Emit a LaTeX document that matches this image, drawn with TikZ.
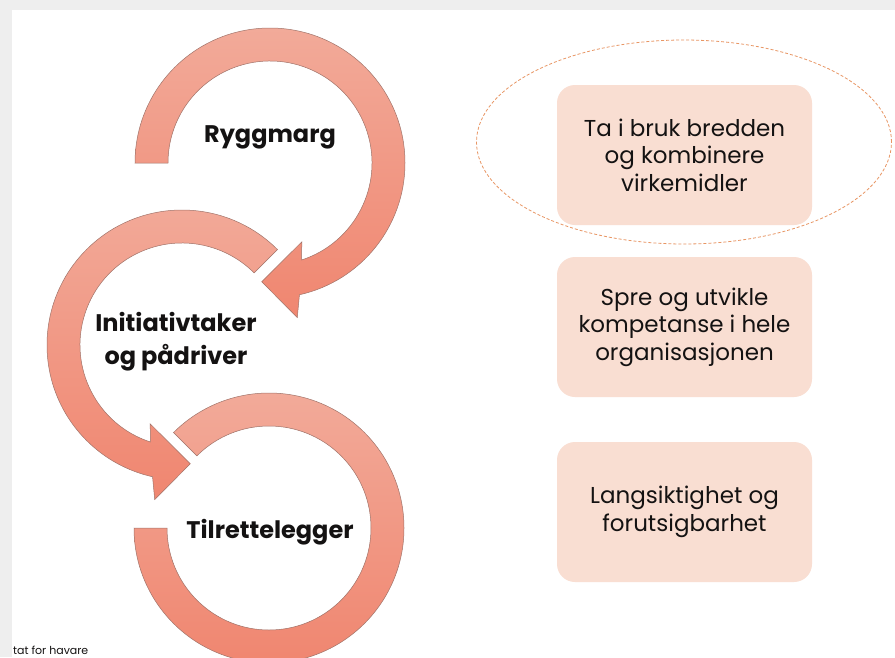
\documentclass[tikz,border=0pt]{standalone}
\usepackage{fontspec}
\setmainfont{Poppins}
\usetikzlibrary{calc,shapes.geometric}
\definecolor{arctop}{RGB}{242,170,153}
\definecolor{arcbot}{RGB}{240,134,112}
\definecolor{arcline}{RGB}{160,115,105}
\definecolor{boxfill}{RGB}{249,222,210}
\definecolor{ellcol}{RGB}{232,150,100}
\definecolor{txt}{RGB}{20,18,18}
\definecolor{framegray}{RGB}{238,238,238}
\tikzset{
  ringarrow/.style={draw=arcline, line width=0.5pt, top color=arctop, bottom color=arcbot},
  cyclelabel/.style={font=\fontsize{24}{33}\selectfont\bfseries, text=txt, align=center, inner sep=0pt},
  infobox/.style={fill=boxfill, rounded corners=18pt, minimum width=255pt, minimum height=140pt,
    inner sep=0pt, align=center, font=\fontsize{23}{27.5}\selectfont, text=txt},
  focusring/.style={draw=ellcol, dash pattern=on 3pt off 2pt, line width=0.8pt, ellipse,
    minimum width=415pt, minimum height=204pt, inner sep=0pt},
}
\begin{document}
\begin{tikzpicture}[x=1pt,y=1pt]
\useasboundingbox (0,0) rectangle (895,-657);
\clip (0,0) rectangle (895,-657);
\fill[framegray] (0,0) rectangle (895,-657);
\fill[white] (12,-10) rectangle (895,-657);

\coordinate (c1) at (270,-163);
\coordinate (c2) at (182,-345);
\coordinate (c3) at (269,-528);

% ring 1: Ryggmarg (clockwise, arrow to ring 2)
\path[ringarrow] ($(c1)+(180:135)$) arc[start angle=180, end angle=-77.4, radius=135]
  -- ($(c1)+(-80:157)$) -- ($(c1)+(-94:119)$) -- ($(c1)+(-68:85)$)
  -- ($(c1)+(-72:102)$) arc[start angle=-72, end angle=180, radius=102] -- cycle;

% ring 2: Initiativtaker (counter-clockwise, arrow to ring 3)
\path[ringarrow] ($(c2)+(45:135)$) arc[start angle=45, end angle=257.4, radius=135]
  -- ($(c2)+(260:157)$) -- ($(c2)+(274:119)$) -- ($(c2)+(248:85)$)
  -- ($(c2)+(252:102)$) arc[start angle=252, end angle=45, radius=102] -- cycle;

% ring 3: Tilrettelegger
\path[ringarrow] ($(c3)+(180:135)$) arc[start angle=180, end angle=495, radius=135]
  -- ($(c3)+(135:102)$) arc[start angle=135, end angle=-180, radius=102] -- cycle;

\node[cyclelabel] (ryggmarg) at (270,-137) {Ryggmarg};
\node[cyclelabel] (initiativ) at (176,-342) {Initiativtaker\\og pådriver};
\node[cyclelabel] (tilrette) at (270,-532) {Tilrettelegger};

\node[focusring] (focus) at (684,-142) {};
\node[infobox] (box1) at (684.5,-155) {Ta i bruk bredden\\og kombinere\\virkemidler};
\node[infobox] (box2) at (684.5,-327) {Spre og utvikle\\kompetanse i hele\\organisasjonen};
\node[infobox] (box3) at (684.5,-512) {Langsiktighet og\\forutsigbarhet};

\node[anchor=base west, inner sep=0pt, font=\fontsize{11}{11}\selectfont, text=txt] (credit) at (13,-654) {tat for havare};
\end{tikzpicture}
\end{document}
